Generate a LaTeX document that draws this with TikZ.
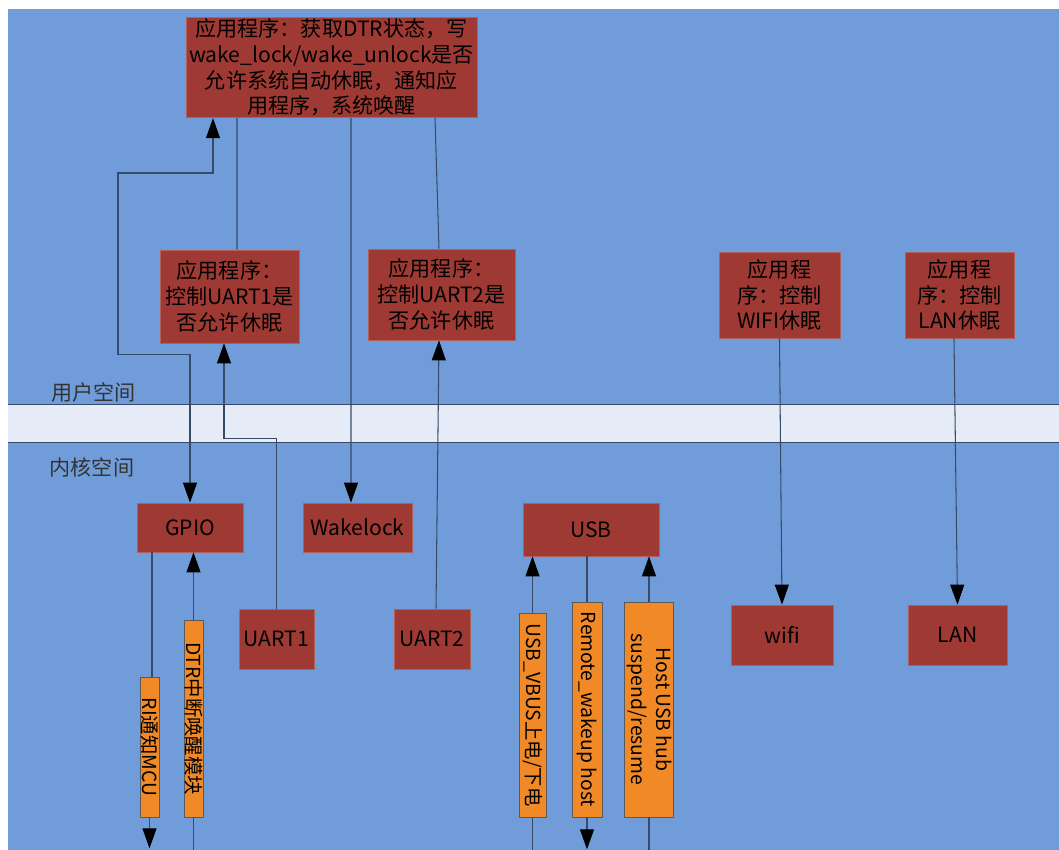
\documentclass[tikz,border=0pt]{standalone}
\usepackage{fontspec}
\setmainfont{Noto Sans CJK SC}
\usepackage{tikz}
\usetikzlibrary{arrows.meta}
\definecolor{bgblue}{RGB}{112,157,217}
\definecolor{bandgray}{RGB}{229,236,247}
\definecolor{boxred}{RGB}{158,58,51}
\definecolor{boxorange}{RGB}{241,137,38}
\definecolor{wire}{RGB}{55,75,105}

\begin{document}
\begin{tikzpicture}[appbox/.style={draw=boxred!80!white, fill=boxred, align=center,
             inner sep=1pt, font=\fontsize{12}{14.6}\selectfont},
           modbox/.style={draw=boxred!80!white, fill=boxred, minimum height=0.98cm,
             inner sep=1pt, font=\fontsize{12}{14.6}\selectfont},
           sigbox/.style={draw=black!65, fill=boxorange, inner sep=0pt,
             font=\fontsize{11}{14}\selectfont},
           spaceLabel/.style={text=black!80, font=\fontsize{12}{14}\selectfont},
           connections/.style={-{Triangle[length=0.4cm,width=0.28cm,color=black]},draw=wire,line width=0.6pt},
           plainConnections/.style={draw=wire,line width=0.6pt},
           biConnections/.style={{Triangle[length=0.4cm,width=0.28cm,color=black]}-{Triangle[length=0.4cm,width=0.28cm,color=black]},draw=wire,line width=0.6pt},
          ]
          \useasboundingbox (0,0) rectangle (21.18,-17);
          \fill[bgblue] (0.16,-0.18) rectangle (21.18,-17);
          \fill[bandgray] (0.16,-8.08) rectangle (21.18,-8.84);
          \draw[wire] (0.16,-8.08) -- (21.18,-8.08) (0.16,-8.84) -- (21.18,-8.84);
          \node at (1.87,-7.84) (user) [spaceLabel] {用户空间};
          \node at (1.84,-9.34) (kernel) [spaceLabel] {内核空间};

          \node at (6.63,-1.35) (app) [appbox, minimum width=5.82cm, minimum height=1.98cm] {应用程序：获取DTR状态，写\\wake\_lock/wake\_unlock是否\\允许系统自动休眠，通知应\\用程序，系统唤醒};
          \node at (4.59,-5.93) (uart1app) [appbox, minimum width=2.78cm, minimum height=1.86cm] {应用程序：\\控制UART1是\\否允许休眠};
          \node at (8.83,-5.89) (uart2app) [appbox, minimum width=2.94cm, minimum height=1.82cm] {应用程序：\\控制UART2是\\否允许休眠};
          \node at (15.59,-5.90) (wifiapp) [appbox, minimum width=2.42cm, minimum height=1.72cm] {应用程\\序：控制\\WIFI休眠};
          \node at (19.19,-5.90) (lanapp) [appbox, minimum width=2.18cm, minimum height=1.72cm] {应用程\\序：控制\\LAN休眠};
          \node at (3.80,-10.55) (gpio) [modbox, minimum width=2.12cm] {GPIO};
          \node at (7.15,-10.55) (wakelock) [modbox, minimum width=2.18cm] {Wakelock};
          \node at (11.82,-10.59) (usb) [modbox, minimum width=2.72cm, minimum height=1.06cm] {USB};
          \node at (5.53,-12.78) (uart1) [modbox, minimum width=1.5cm, minimum height=1.2cm] {UART1};
          \node at (8.64,-12.78) (uart2) [modbox, minimum width=1.52cm, minimum height=1.2cm] {UART2};
          \node at (15.64,-12.70) (wifi) [modbox, minimum width=2.04cm, minimum height=1.2cm] {wifi};
          \node at (19.15,-12.70) (lan) [modbox, minimum width=1.98cm, minimum height=1.2cm] {LAN};
          \node at (2.99,-14.94) (ri) [sigbox, minimum width=0.38cm, minimum height=2.8cm] {\rotatebox{-90}{RI通知MCU}};
          \node at (3.87,-14.37) (dtr) [sigbox, minimum width=0.38cm, minimum height=3.94cm] {\rotatebox{-90}{DTR中断唤醒模块}};
          \node at (10.65,-14.30) (vbus) [sigbox, minimum width=0.54cm, minimum height=4.08cm] {\rotatebox{-90}{USB\_VBUS上电/下电}};
          \node at (11.74,-14.19) (remote) [sigbox, minimum width=0.6cm, minimum height=4.3cm] {\rotatebox{-90}{Remote\_wakeup host}};
          \node at (12.98,-14.19) (host) [sigbox, minimum width=0.84cm, minimum height=4.3cm] {\rotatebox{-90}{\begin{tabular}{@{}c@{}}Host USB hub\\suspend/resume\end{tabular}}};

          \draw[biConnections] (gpio.north) -- ++(0,2.96) -| (2.36,-3.46) -| ([xshift=-2.37cm]app.south);
          \draw[plainConnections] ([xshift=-1.89cm]app.south) -- ([xshift=0.15cm]uart1app.north);
          \draw[connections] ([xshift=0.39cm]app.south) -- ([xshift=-0.13cm]wakelock.north);
          \draw[plainConnections] ([xshift=2.07cm]app.south) -- ([xshift=-0.05cm]uart2app.north);
          \draw[connections] (uart1.north) -- ++(0,3.40) -| ([xshift=-0.11cm]uart1app.south);
          \draw[connections] ([xshift=0.08cm]uart2.north) -- ([xshift=-0.05cm]uart2app.south);
          \draw[connections] (wifiapp.south) -- (wifi.north);
          \draw[connections] ([xshift=-0.11cm]lanapp.south) -- (lan.north);
          \draw[plainConnections] ([xshift=-0.76cm]gpio.south) -- ([xshift=0.05cm]ri.north);
          \draw[connections] (ri.south) -- ++(0,-0.62);
          \draw[connections] (dtr.north) -- (dtr.north |- gpio.south);
          \draw[plainConnections] (dtr.south) -- ++(0,-0.66);
          \draw[connections] (vbus.north) -- (vbus.north |- usb.south);
          \draw[plainConnections] (vbus.south) -- ++(0,-0.66);
          \draw[plainConnections] (remote.north |- usb.south) -- (remote.north);
          \draw[connections] (remote.south) -- ++(0,-0.64);
          \draw[connections] (host.north) -- (host.north |- usb.south);
          \draw[plainConnections] (host.south) -- ++(0,-0.66);

       \end{tikzpicture}
\end{document}
